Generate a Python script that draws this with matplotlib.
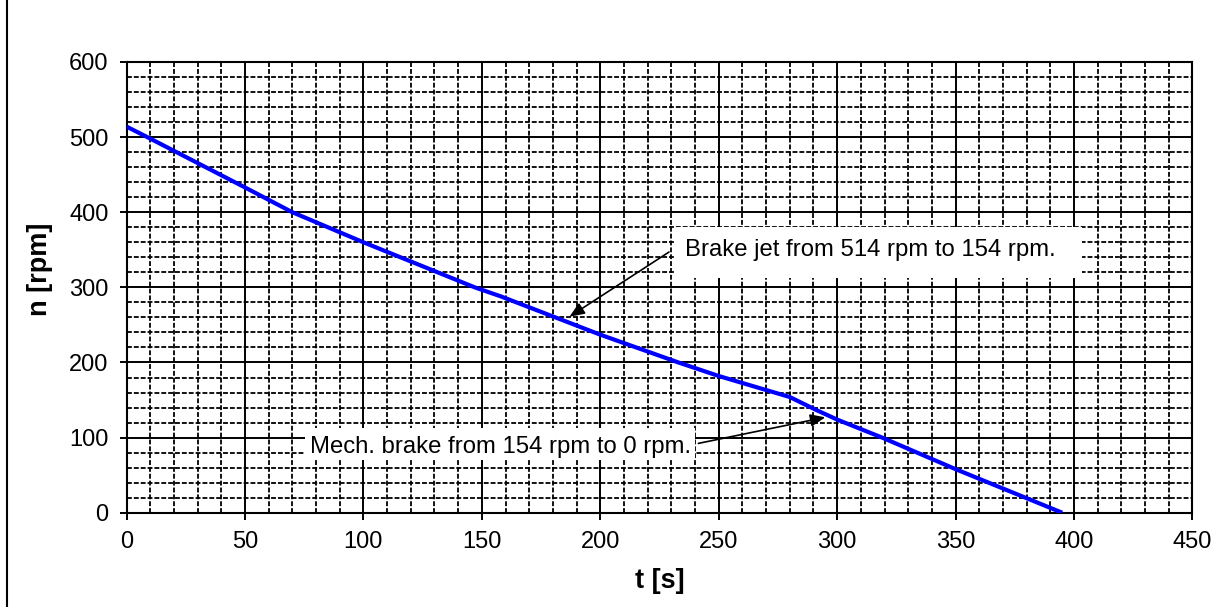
import matplotlib
matplotlib.use("Agg")
import matplotlib.pyplot as plt
from matplotlib.lines import Line2D
from matplotlib.patches import Rectangle
from matplotlib.ticker import MultipleLocator

# speed of the runner while braking
t_s = [0, 10, 50, 70, 100, 147, 158, 200, 233, 250, 280, 291, 300, 319, 350, 395]
n_rpm = [514, 498, 433, 400, 360, 300, 288, 237, 200, 182, 154, 137, 124, 100, 58, 0]

jet_text = "Brake jet from 514 rpm to 154 rpm."
mech_text = "Mech. brake from 154 rpm to 0 rpm."

plt.rcParams['font.family'] = ['Liberation Sans', 'DejaVu Sans']

fig = plt.figure(figsize=(12.12, 6.07), dpi=100)
ax = fig.add_axes([0.1044, 0.1553, 0.8795, 0.7426])

ax.plot(t_s, n_rpm, color='#0000ff', lw=3, zorder=3, solid_capstyle='butt')

ax.set_xlim(0, 450)
ax.set_ylim(0, 600)
ax.xaxis.set_major_locator(MultipleLocator(50))
ax.xaxis.set_minor_locator(MultipleLocator(10))
ax.yaxis.set_major_locator(MultipleLocator(100))
ax.yaxis.set_minor_locator(MultipleLocator(20))

ax.set_axisbelow(True)
ax.grid(which='major', color='black', lw=1.4, ls='-')
ax.grid(which='minor', color='black', lw=1.3, ls=(0, (2.7, 1.1)))

ax.tick_params(which='major', direction='out', length=5, width=1.4, labelsize=17, pad=8)
ax.tick_params(which='minor', length=0)
for s in ax.spines.values():
    s.set_linewidth(1.5)

ax.set_xlabel('t [s]', fontsize=19.5, fontweight='bold')
ax.set_ylabel('n [rpm]', fontsize=19.5, fontweight='bold')
ax.xaxis.set_label_coords(0.5, -0.122)
ax.yaxis.set_label_coords(-0.069, 0.54)

# white boxes behind the notes
ax.add_patch(Rectangle((231.5, 313), 171.8, 67, facecolor='white', edgecolor='none', zorder=1))
ax.add_patch(Rectangle((75.3, 70), 164.7, 42.7, facecolor='white', edgecolor='none', zorder=1))

ax.text(235.8, 350, jet_text, fontsize=17.2, va='center', ha='left', zorder=4)
ax.text(77.4, 88, mech_text, fontsize=17.2, va='center', ha='left', zorder=4)

arrow = dict(arrowstyle='-|>,head_length=0.6,head_width=0.25', color='black', lw=1.2,
             mutation_scale=15, shrinkA=0, shrinkB=0)
ax.annotate('', xy=(187, 261), xytext=(229, 347), arrowprops=arrow, zorder=4)
ax.annotate('', xy=(295, 127), xytext=(241.4, 92.3), arrowprops=arrow, zorder=4)

# page border on the left
fig.add_artist(Line2D([0.0058, 0.0058], [0, 1], color='black', lw=1.5))

fig.savefig('out.png', dpi=100)
